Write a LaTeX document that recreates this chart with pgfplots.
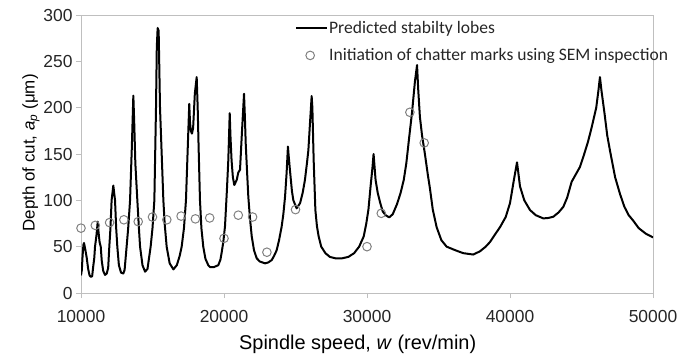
\documentclass[border=0pt]{standalone}
\usepackage{pgfplots}
\pgfplotsset{compat=1.18}
\usepackage{fontspec}
\setmainfont{Liberation Sans}
\newfontfamily\carlito{Carlito}
\definecolor{axgray}{HTML}{BFBFBF}
\definecolor{mkgray}{HTML}{808080}
\begin{document}
\begin{tikzpicture}
\path[use as bounding box] (-81bp,-63bp) rectangle (611bp,293bp);
\begin{axis}[
  at={(0,0)}, anchor=south west,
  scale only axis, width=572bp, height=278bp,
  xmin=10000, xmax=50000, ymin=0, ymax=300,
  xtick={10000,20000,30000,40000,50000}, ytick={0,50,100,150,200,250,300},
  scaled x ticks=false, scaled y ticks=false,
  axis line style={draw=axgray, line width=0.9bp},
  tick style={draw=axgray, line width=0.9bp},
  major tick length=5bp,
  tick align=outside, xtick pos=bottom, ytick pos=left,
  ticklabel style={font=\fontsize{17.5}{17.5}\selectfont, text=black!85},
  xticklabel style={yshift=-9bp},
  /pgf/number format/1000 sep={},
  /pgf/number format/assume math mode=true,
  xlabel={Spindle speed, \textit{w} (rev/min)},
  ylabel={Depth of cut, \textit{a}\textsubscript{\textit{p}} (μm)},
  every axis x label/.style={at={(axis description cs:0.4837,-0.2036)}, anchor=base, font=\fontsize{20}{20}\selectfont, text=black},
  every axis y label/.style={at={(axis description cs:-0.0874,0.504)}, rotate=90, anchor=center, font=\fontsize{17}{17}\selectfont, text=black},
  legend style={at={(rel axis cs:0.3741,0.983)}, anchor=north west, draw=none, fill=none, inner sep=0pt,
    font=\carlito\fontsize{17.6}{17.6}\selectfont, text=black!85, row sep=12bp,
    nodes={inner sep=1pt}},
  legend cell align=left,
]
\addplot[black, line width=2bp, line join=round,
  legend image code/.code={\draw[black, line width=2bp] (0bp,0bp) -- (31bp,0bp);}]
coordinates {
(10000,19) (10060,25) (10110,40) (10170,52) (10210,54) (10260,50) (10300,47) (10400,38) (10500,26) (10600,19) (10680,17.5) (10780,18)
(10850,28) (10930,38) (10980,50) (11080,62) (11170,77) (11230,65) (11300,55) (11380,50) (11450,35) (11550,24) (11680,19.5) (11800,21)
(11900,27) (11980,50) (12060,70) (12140,100) (12200,108) (12260,116) (12320,108) (12380,100) (12460,70) (12540,50) (12650,30) (12800,22)
(12960,21) (13050,25) (13190,50) (13300,70) (13430,100) (13550,155) (13660,213) (13720,185) (13800,140) (13940,100) (14050,70) (14130,50)
(14300,30) (14480,23) (14650,26) (14870,50) (15000,70) (15130,100) (15245,200) (15300,265) (15360,286) (15430,283) (15480,240) (15525,200)
(15760,100) (15850,75) (15990,50) (16200,32) (16460,25.5) (16700,30) (16900,40) (17040,50) (17200,70) (17340,100) (17450,150) (17570,204)
(17620,185) (17680,175) (17760,172) (17840,178) (17960,215) (18090,233) (18160,200) (18220,160) (18320,100) (18420,70) (18550,50) (18700,37)
(18900,30) (19020,28) (19300,28) (19600,30) (19750,36) (19830,43) (19950,55) (20070,72) (20200,110) (20300,143) (20400,194) (20450,170)
(20530,143) (20620,125) (20720,116.5) (20890,122) (21000,130) (21120,133) (21240,169) (21400,215) (21460,190) (21520,161) (21600,135) (21700,104)
(21820,80) (21940,61) (22100,46) (22290,37.4) (22500,34) (22870,32) (23100,33) (23340,35.6) (23500,40) (23680,46) (23850,57) (24030,71.5)
(24150,85) (24270,104) (24380,130) (24470,158) (24540,145) (24610,133) (24750,110) (24850,100) (25080,91.4) (25320,97) (25500,108) (25660,122)
(25800,140) (25900,154) (26020,185) (26130,212.5) (26180,200) (26270,143.5) (26390,89.5) (26500,72) (26620,61) (26800,50) (27090,43) (27400,39)
(27780,37.5) (28250,37.4) (28700,39) (29100,43) (29450,50) (29770,61) (29950,75) (30100,90) (30250,115) (30380,135) (30460,150) (30520,138)
(30600,122) (30750,108) (30910,98) (31100,88) (31300,84) (31550,81.6) (31800,85) (32100,96) (32350,108) (32570,122) (32750,140) (32950,168)
(33150,195) (33350,228) (33500,246) (33580,220) (33700,190) (33850,170) (34050,150) (34250,128) (34400,113) (34600,90) (34870,71) (35200,57)
(35570,50) (36200,46) (36730,43) (37430,41.5) (37900,45) (38300,50) (38600,55) (38900,62) (39300,71) (39700,82) (40000,97)
(40250,120) (40490,141) (40580,130) (40700,115) (41000,100) (41400,89.5) (41800,84) (42330,80.5) (42700,81) (43030,82.3) (43400,87) (43730,93)
(44000,103) (44310,120) (44600,128) (44890,136) (45150,148) (45450,163) (45700,178) (46030,200) (46180,218) (46290,233)
(46400,218) (46600,195) (46800,170) (47000,153) (47350,125) (47690,107) (48000,93) (48300,84) (48620,78) (49000,70) (49500,64) (50000,60)
};
\addlegendentry{Predicted stabilty lobes}
\addplot[only marks, mark=o, mark size=4.3bp, draw=mkgray, mark options={line width=1bp},
  legend image code/.code={\draw[mkgray, line width=1bp] (14bp,0bp) circle (4.3bp);}]
coordinates {
(10000,70) (11000,73) (12000,76) (13000,79) (14000,77) (15000,82) (16000,79) (17000,83) (18000,80) (19000,81)
(20000,59) (21000,84) (22000,82) (23000,44) (25000,90) (30000,50) (31000,86) (33000,195) (34000,162)
};
\addlegendentry{Initiation of chatter marks using SEM inspection}
\end{axis}
\end{tikzpicture}
\end{document}
